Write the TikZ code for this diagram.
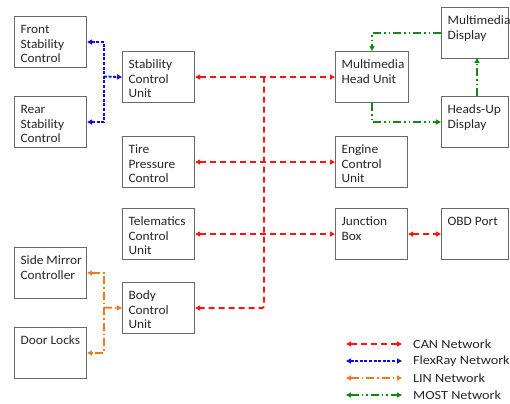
\documentclass[tikz,border=0pt]{standalone}
\usepackage{fontspec}
\setmainfont{Carlito}
\newfontfamily\boxfont{Carlito}[FakeStretch=1.05]
\newfontfamily\legfont{Carlito}[FakeStretch=1.14]
\usetikzlibrary{arrows.meta}
\definecolor{boxgray}{RGB}{105,105,105}
\definecolor{canred}{RGB}{250,20,20}
\definecolor{flexblue}{RGB}{10,10,235}
\definecolor{linorange}{RGB}{242,122,30}
\definecolor{mostgreen}{RGB}{20,135,20}
\newcommand\ecutxt[3]{\parbox[b][#2][t]{#1}{\raggedright\leftskip=6bp\rule{0pt}{16.5bp}#3}}
\tikzset{
  ecu/.style={draw=boxgray, line width=1.1bp, inner sep=0pt, anchor=north west,
    font=\boxfont\fontsize{12.8}{15}\selectfont, text=black!85},
  tip/.style={-{Triangle[length=5bp,width=5bp]}},
  dtip/.style={{Triangle[length=5bp,width=5bp]}-{Triangle[length=5bp,width=5bp]}},
  can/.style={draw=canred, line width=1.9bp, dash pattern=on 6bp off 4bp},
  flex/.style={draw=flexblue, line width=1.9bp, dash pattern=on 3bp off 1.6bp},
  lin/.style={draw=linorange, line width=1.9bp, dash pattern=on 8bp off 3bp on 1.5bp off 3bp},
  most/.style={draw=mostgreen, line width=1.9bp, dash pattern=on 8bp off 3bp on 1.5bp off 3bp on 1.5bp off 3bp},
  legtxt/.style={anchor=west, inner sep=0pt, font=\legfont\fontsize{12.5}{15}\selectfont, text=black!85},
}
\begin{document}
\begin{tikzpicture}[x=1bp,y=-1bp]
\useasboundingbox (0,0) rectangle (510,403);
% boxes
\node[ecu] (fsc) at (14,16) {\ecutxt{72bp}{51bp}{Front\\Stability\\Control}};
\node[ecu] (rsc) at (14,96) {\ecutxt{72bp}{51bp}{Rear\\Stability\\Control}};
\node[ecu] (scu) at (122,51) {\ecutxt{72bp}{51bp}{Stability\\Control\\Unit}};
\node[ecu] (tpc) at (122,136) {\ecutxt{72bp}{51bp}{Tire\\Pressure\\Control}};
\node[ecu] (tcu) at (122,208) {\ecutxt{72bp}{51bp}{Telematics\\Control\\Unit}};
\node[ecu] (bcu) at (122,282) {\ecutxt{72bp}{51bp}{Body\\Control\\Unit}};
\node[ecu] (smc) at (14,247) {\ecutxt{72bp}{51bp}{Side Mirror\\Controller}};
\node[ecu] (dl) at (14,327) {\ecutxt{72bp}{51bp}{Door Locks}};
\node[ecu] (mhu) at (335,51) {\ecutxt{73bp}{51bp}{Multimedia\\Head Unit}};
\node[ecu] (ecm) at (335,136) {\ecutxt{72bp}{51bp}{Engine\\Control\\Unit}};
\node[ecu] (jb) at (335,208) {\ecutxt{72bp}{51bp}{Junction\\Box}};
\node[ecu] (md) at (441,7) {\ecutxt{67bp}{51bp}{Multimedia\\Display}};
\node[ecu] (hud) at (441,96) {\ecutxt{67bp}{51bp}{Heads-Up\\Display}};
\node[ecu] (obd) at (441,208) {\ecutxt{67bp}{51bp}{OBD Port}};
% CAN
\coordinate (bustop) at (264,76.5);
\draw[can,dtip] (scu.east) -- (mhu.west);
\draw[can,dtip] (tpc.east) -- (ecm.west);
\draw[can,dtip] (tcu.east) -- (jb.west);
\draw[can,dtip] (jb.east) -- (obd.west);
\draw[can,tip,rounded corners=2bp] (bustop) |- (bcu.east);
% FlexRay
\coordinate (fx) at (104,76.5);
\draw[flex,tip] (fx) -- (scu.west);
\draw[flex,dtip] (fsc.east) -| (fx) |- (rsc.east);
% LIN
\coordinate (lx) at (104,307.5);
\draw[lin,tip] (lx) -- (bcu.west);
\draw[lin,dtip] (smc.east) -| (lx) |- (dl.east);
% MOST
\draw[most,tip] (md.west) -| (mhu.north);
\draw[most,tip] (mhu.south) |- (hud.west);
\coordinate (hudtop) at (477,96);
\coordinate (mdbot) at (477,58);
\draw[most,tip] (hudtop) -- (mdbot);
% legend
\coordinate (c1) at (346,344); \coordinate (c2) at (402,344);
\coordinate (f1) at (346,361); \coordinate (f2) at (402,361);
\coordinate (n1) at (346,378); \coordinate (n2) at (402,378);
\coordinate (m1) at (346,395); \coordinate (m2) at (402,395);
\draw[can,dtip] (c1) -- (c2);
\draw[flex,dtip] (f1) -- (f2);
\draw[lin,dtip] (n1) -- (n2);
\draw[most,dtip] (m1) -- (m2);
\node[legtxt] (lc) at (413,344) {CAN Network};
\node[legtxt] (lf) at (413,361) {FlexRay Network};
\node[legtxt] (ll) at (413,378) {LIN Network};
\node[legtxt] (lm) at (413,395) {MOST Network};
\end{tikzpicture}
\end{document}
